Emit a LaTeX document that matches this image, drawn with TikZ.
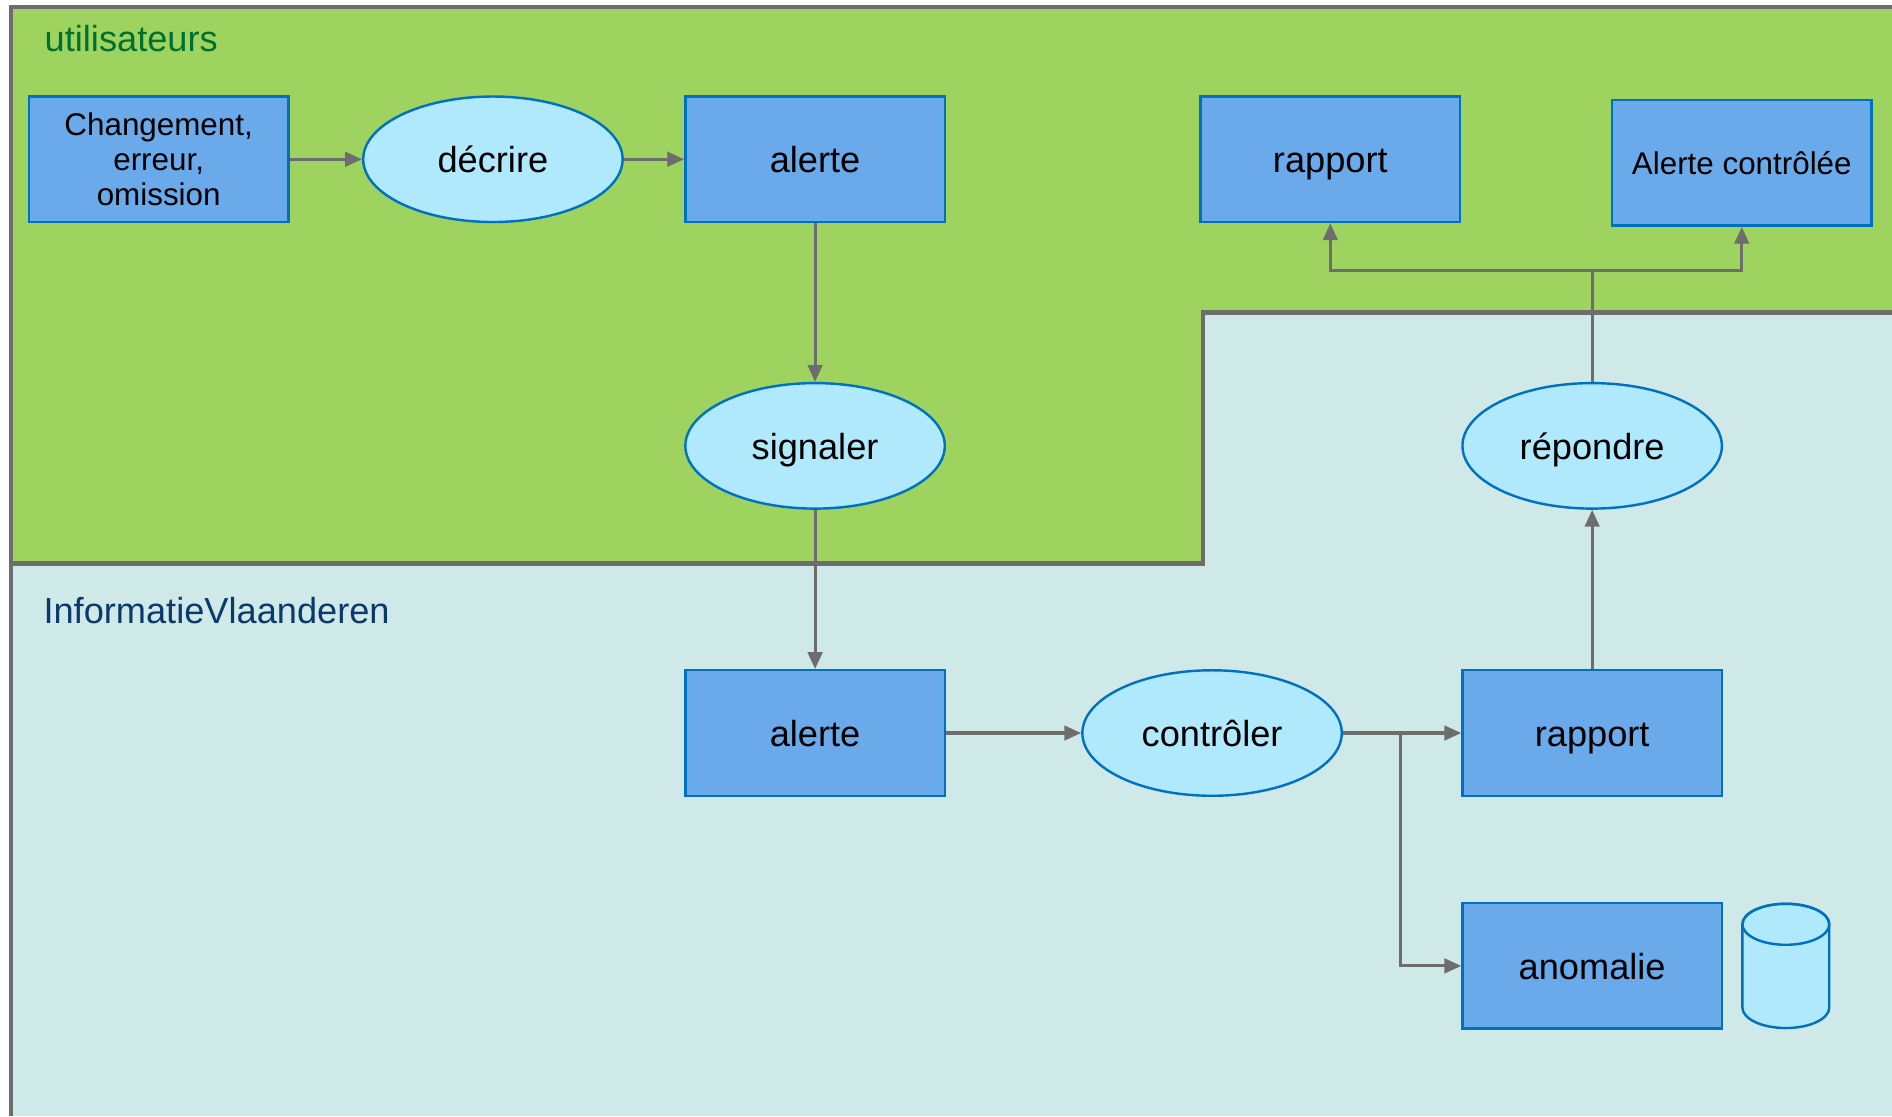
\documentclass[tikz,border=0pt]{standalone}
\usepackage{fontspec}
\setmainfont{Liberation Sans}
\usetikzlibrary{arrows.meta,shapes.geometric}
\definecolor{grn}{RGB}{157,211,94}
\definecolor{lblue}{RGB}{207,232,232}
\definecolor{boxf}{RGB}{106,169,234}
\definecolor{boxd}{RGB}{0,112,192}
\definecolor{ellf}{RGB}{176,232,252}
\definecolor{lgray}{RGB}{109,109,109}
\definecolor{tgreen}{RGB}{0,112,48}
\definecolor{tblue}{RGB}{10,58,107}
\begin{document}
\begin{tikzpicture}[x=0.5pt,y=-0.5pt,
  lbl/.style={font=\fontsize{15}{18}\selectfont},
  small/.style={font=\fontsize{13}{14.5}\selectfont},
  box/.style={draw=boxd,fill=boxf,line width=1pt,minimum width=107.5pt,minimum height=52pt,inner sep=0pt,align=center,lbl},
  one/.style={text height=11pt,text depth=0pt},
  onesmall/.style={text height=9.5pt,text depth=0pt},
  proc/.style={ellipse,draw=boxd,fill=ellf,line width=1pt,minimum width=107.5pt,minimum height=52pt,inner sep=0pt,lbl,one},
  conn/.style={draw=lgray,line width=1.3pt,-{Triangle[length=7pt,width=6pt]}},
  plain/.style={draw=lgray,line width=1.3pt},
  bound/.style={draw=lgray,line width=1.8pt}]
\useasboundingbox (0,0) rectangle (1568,925);
\fill[white] (0,0) rectangle (1568,925);
\fill[lblue] (9,6) rectangle (1568,925);
\fill[grn] (9,6) -- (1568,6) -- (1568,259) -- (997,259) -- (997,467) -- (9,467) -- cycle;
\draw[bound] (9,925) -- (9,6) -- (1568,6);
\draw[bound] (9,467) -- (997,467) -- (997,259) -- (1568,259);

\node[anchor=west,text=tgreen,lbl] (tu) at (30,32) {utilisateurs};
\node[anchor=west,text=tblue,lbl] (ti) at (29,506) {InformatieVlaanderen};

\node[box,small] (chg) at (131.5,132) {Changement,\\erreur,\\omission};
\node[proc] (dec) at (408.5,132) {décrire};
\node[box,one] (al1) at (675.5,132) {alerte};
\node[box,one] (rap1) at (1102.5,132) {rapport};
\node[box,small,onesmall] (ac) at (1443.5,135) {Alerte contrôlée};
\node[proc] (sig) at (675.5,369.5) {signaler};
\node[proc] (rep) at (1319.5,369.5) {répondre};
\node[box,one] (al2) at (675.5,607.5) {alerte};
\node[proc] (ctl) at (1004.5,607.5) {contrôler};
\node[box,one] (rap2) at (1319.5,607.5) {rapport};
\node[box,one] (ano) at (1319.5,800.5) {anomalie};

% cylinder
\draw[draw=boxd,fill=ellf,line width=1pt] (1444,766) -- (1444,835)
  arc[start angle=180,end angle=0,x radius=36,y radius=17] -- (1516,766)
  arc[start angle=0,end angle=-180,x radius=36,y radius=17] -- cycle;
\draw[draw=boxd,line width=1pt] (1480,766) ellipse[x radius=36,y radius=17];

\coordinate (j) at (1319.5,224);
\coordinate (k) at (1161,607.5);

\draw[conn] (chg) -- (dec);
\draw[conn] (dec) -- (al1);
\draw[conn] (al1) -- (sig);
\draw[conn] (sig) -- (al2);
\draw[conn] (al2) -- (ctl);
\draw[conn] (ctl) -- (rap2);
\draw[conn] (k) |- (ano.west);
\draw[conn] (rap2) -- (rep);
\draw[plain] (rep.north) -- (j);
\draw[conn] (j) -| (rap1.south);
\draw[conn] (j) -| (ac.south);
\end{tikzpicture}
\end{document}
